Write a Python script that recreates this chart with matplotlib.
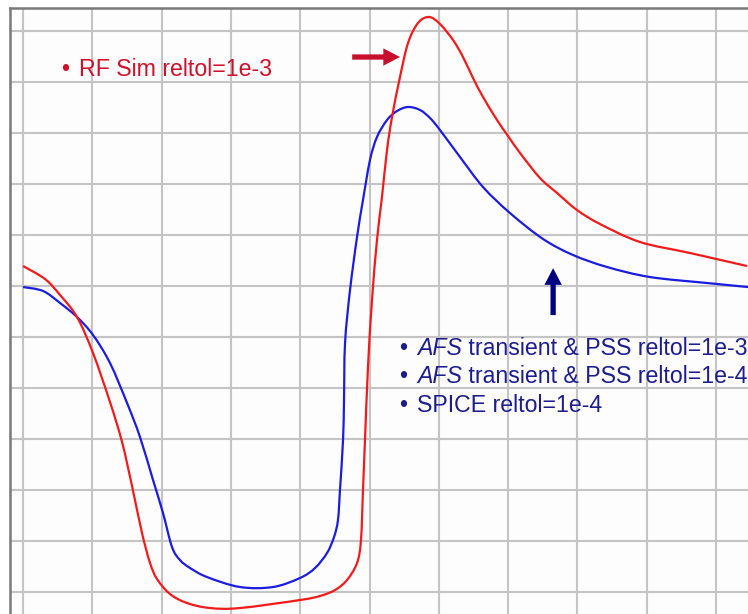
import numpy as np
import matplotlib
matplotlib.use("Agg")
import matplotlib.pyplot as plt
from matplotlib.path import Path
from matplotlib.patches import PathPatch

plt.rcParams["font.family"] = ["Liberation Sans", "DejaVu Sans"]

# Curves, in grid divisions
# (x: one vertical grid step = 1, y: one horizontal grid step = 1, 0 = settled level)
blue_x = [0.0, 0.289, 0.534, 0.779, 1.010, 1.255, 1.501, 1.688, 1.876,
          2.020, 2.150, 2.265, 2.410, 2.655, 3.131, 3.608, 3.997, 4.214,
          4.387, 4.488, 4.545, 4.574, 4.618, 4.632, 4.647, 4.719, 4.820,
          4.906, 5.007, 5.108, 5.253, 5.397, 5.556, 5.729, 5.873, 6.017,
          6.306, 6.638, 7.027, 7.504, 7.937, 8.427, 9.048, 9.870, 10.462]
blue_y = [-0.020, -0.098, -0.333, -0.608, -0.961, -1.510, -2.294, -2.961,
          -3.804, -4.451, -5.118, -5.373, -5.529, -5.706, -5.902, -5.902,
          -5.725, -5.529, -5.235, -4.922, -4.588, -4.000, -3.020, -2.235,
          -1.118, -0.078, 0.961, 1.686, 2.471, 2.922, 3.255, 3.431, 3.510,
          3.451, 3.294, 3.059, 2.529, 1.941, 1.431, 0.922, 0.608, 0.373,
          0.176, 0.059, -0.020]

red_x = [0.0, 0.317, 0.534, 0.779, 1.010, 1.255, 1.429, 1.573, 1.717,
         1.833, 1.934, 2.121, 2.367, 2.698, 3.131, 3.997, 4.286, 4.502,
         4.675, 4.820, 4.877, 4.906, 4.935, 4.978, 5.036, 5.108, 5.180,
         5.253, 5.325, 5.440, 5.556, 5.700, 5.859, 6.017, 6.205, 6.349,
         6.494, 6.638, 6.840, 6.999, 7.172, 7.460, 7.706, 7.994, 8.326,
         8.903, 9.625, 10.447]
red_y = [0.392, 0.137, -0.176, -0.608, -1.314, -2.275, -3.059, -3.922,
         -4.843, -5.431, -5.745, -6.039, -6.216, -6.314, -6.314, -6.157,
         -6.078, -5.961, -5.765, -5.431, -4.980, -4.000, -3.020, -1.588,
         -0.275, 0.902, 1.745, 2.667, 3.314, 4.098, 4.765, 5.157, 5.275,
         5.137, 4.824, 4.490, 4.078, 3.706, 3.255, 2.941, 2.608, 2.118,
         1.824, 1.490, 1.216, 0.863, 0.647, 0.392]

red_label = "RF Sim reltol=1e-3"
blue_labels = [("AFS", " transient & PSS reltol=1e-3"),
               ("AFS", " transient & PSS reltol=1e-4"),
               ("", "SPICE reltol=1e-4")]


def smooth_path(xs, ys):
    """Catmull-Rom through the points, drawn as cubic Bezier segments."""
    p = np.column_stack([xs, ys])
    q = np.vstack([p[0], p, p[-1]])
    verts = [p[0]]
    codes = [Path.MOVETO]
    for i in range(len(p) - 1):
        p0, p1, p2, p3 = q[i], q[i + 1], q[i + 2], q[i + 3]
        verts += [p1 + (p2 - p0) / 6, p2 - (p3 - p1) / 6, p2]
        codes += [Path.CURVE4] * 3
    return Path(verts, codes)


fig = plt.figure(figsize=(7.48, 6.14), dpi=100)
ax = fig.add_axes([10 / 748, 0, 1 - 10 / 748, 1 - 8 / 614])
ax.set_xlim(-0.188, 10.462)
ax.set_ylim(-6.431, 5.451)
ax.set_facecolor("#fdfdfd")

ax.set_xticks(np.arange(0, 11))
ax.set_yticks(np.arange(-6, 6))
ax.grid(True, color="#c4c4c4", lw=1.5)
ax.tick_params(length=0, labelbottom=False, labelleft=False)
ax.set_axisbelow(True)
for side in ["right", "bottom"]:
    ax.spines[side].set_visible(False)
for side in ["left", "top"]:
    ax.spines[side].set_color("#7a7a7a")
    ax.spines[side].set_linewidth(1.8)

ax.add_patch(PathPatch(smooth_path(blue_x, blue_y), fill=False,
                       edgecolor="#1c1ce0", lw=1.6))
ax.add_patch(PathPatch(smooth_path(red_x, red_y), fill=False,
                       edgecolor="#f21a1a", lw=1.6))

# arrows
ax.annotate("", xy=(5.44, 4.49), xytext=(4.75, 4.49),
            arrowprops=dict(width=3.8, headwidth=12.5, headlength=12,
                            shrink=0, color="#c8102e", lw=0))
ax.annotate("", xy=(7.65, 0.35), xytext=(7.65, -0.57),
            arrowprops=dict(width=3.8, headwidth=12.5, headlength=12,
                            shrink=0, color="#000080", lw=0))

fs = 16.7
red_txt = "#d0102a"
blue_txt = "#1c1c8c"
ax.text(0.606, 4.12, "\u2022", color=red_txt, fontsize=fs,
        ha="center", va="baseline")
ax.text(0.808, 4.12, red_label, color=red_txt, fontsize=fs, va="baseline")

for (ital, rest), yb in zip(blue_labels, [-1.353, -1.902, -2.471]):
    ax.text(5.483, yb, "\u2022", color=blue_txt, fontsize=fs,
            ha="center", va="baseline")
    if ital:
        t = ax.text(5.685, yb, ital, color=blue_txt, fontsize=fs,
                    style="italic", va="baseline")
        ax.annotate(rest, xy=(1, 0), xycoords=t, color=blue_txt,
                    fontsize=fs, va="bottom", annotation_clip=False)
    else:
        ax.text(5.685, yb, rest, color=blue_txt, fontsize=fs, va="baseline")

fig.savefig("out.png", dpi=100)
